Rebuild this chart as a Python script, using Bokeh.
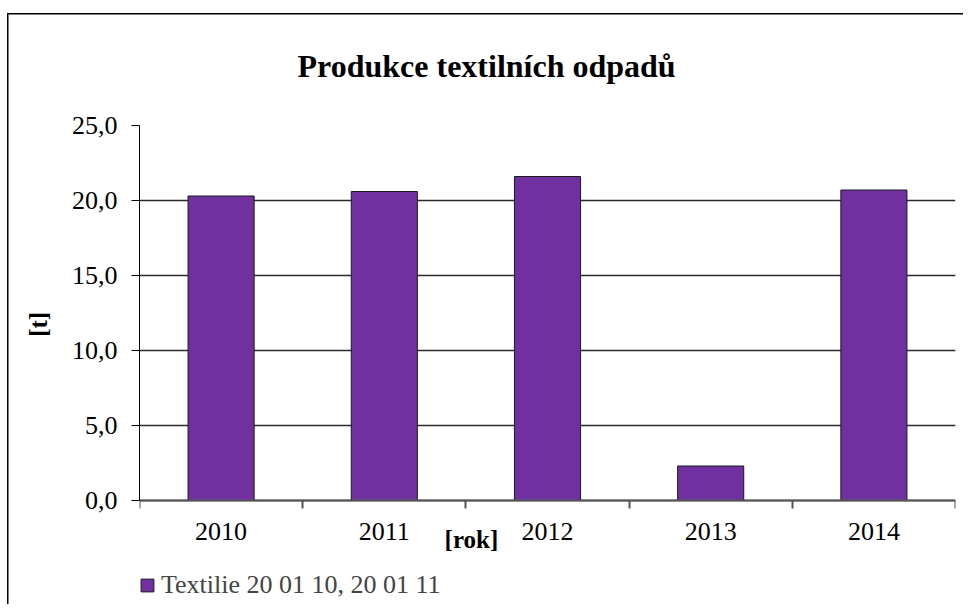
import numpy as np
from bokeh.plotting import figure
from bokeh.models import (Range1d, FixedTicker, Legend, LegendItem, LinearAxis,
                          ColumnDataSource)
from bokeh.embed import file_html
from bokeh.resources import INLINE

# ---- data ----
years = ["2010", "2011", "2012", "2013", "2014"]
values = [20.3, 20.6, 21.6, 2.3, 20.7]
y_ticks = [0, 5, 10, 15, 20, 25]
y_tick_labels = ["0,0", "5,0", "10,0", "15,0", "20,0", "25,0"]
title_text = "Produkce textilních odpadů"
series_name = "Textilie 20 01 10, 20 01 11"
x_title = "[rok]"
y_title = "[t]"

FONT = "Liberation Serif"
n = len(years)
pos = [i + 0.5 for i in range(n)]
src = ColumnDataSource(dict(x=pos, top=values, year=years))

# frame: x 139..955 px, y 125..604 px (25 at 125, 0 at 500)
PX_Y = 15.0
y_lo = -104 / PX_Y

p = figure(frame_width=816, frame_height=479,
           x_range=Range1d(0, n), y_range=Range1d(y_lo, 25),
           output_backend="svg", toolbar_location=None, tools="")
p.min_border_left = 139
p.min_border_right = 8
p.min_border_top = 125
p.min_border_bottom = 0
p.outline_line_color = None
p.background_fill_color = "white"
p.border_fill_color = None
p.styles = {
    "background-image": "linear-gradient(#000,#000), linear-gradient(#000,#000)",
    "background-size": "1.5px 100%, 100% 1.5px",
    "background-position": "7px 13px, 7px 13px",
    "background-repeat": "no-repeat",
    "background-color": "white",
}

r = p.vbar(x="x", top="top", width=0.405, source=src,
           fill_color="#7030A0", line_color="#1a1a1a", line_width=1)

# grid
p.xgrid.visible = False
p.ygrid.ticker = FixedTicker(ticks=y_ticks)
p.ygrid.grid_line_color = "#2b2b2b"
p.ygrid.grid_line_width = 1.3

# x axis (at y = 0)
xa = p.xaxis[0]
xa.fixed_location = 0
xa.ticker = FixedTicker(ticks=pos, minor_ticks=list(range(n + 1)))
xa.major_label_overrides = {x: y for x, y in zip(pos, years)}
xa.major_tick_out = 0
xa.major_tick_in = 0
xa.major_tick_line_color = None
xa.minor_tick_out = 8
xa.minor_tick_in = 0
xa.minor_tick_line_color = "#555555"
xa.minor_tick_line_width = 2
xa.axis_line_color = "#555555"
xa.axis_line_width = 2
xa.bounds = (0, n)
xa.major_label_standoff = 14
xa.major_label_text_font = FONT
xa.major_label_text_font_size = "26px"
xa.major_label_text_color = "black"

# second bottom axis carrying only the "[rok]" caption
x_title_pos = 2.034
xa2 = LinearAxis(fixed_location=0, ticker=FixedTicker(ticks=[x_title_pos]),
                 major_label_overrides={x_title_pos: x_title},
                 axis_line_color=None, major_tick_line_color=None,
                 minor_tick_line_color=None, major_tick_out=0, major_tick_in=0,
                 minor_tick_out=0, minor_tick_in=0, major_label_standoff=25,
                 major_label_text_font=FONT, major_label_text_font_size="25px",
                 major_label_text_font_style="bold", major_label_text_color="black")
p.add_layout(xa2, "below")

# y axis
ya = p.yaxis[0]
ya.bounds = (0, 25)
ya.ticker = FixedTicker(ticks=y_ticks)
ya.major_label_overrides = {t: l for t, l in zip(y_ticks, y_tick_labels)}
ya.major_tick_out = 8
ya.major_tick_in = 0
ya.minor_tick_line_color = None
ya.axis_line_color = "black"
ya.axis_line_width = 1
ya.major_tick_line_color = "black"
ya.major_label_standoff = 14
ya.major_label_text_font = FONT
ya.major_label_text_font_size = "26px"
ya.major_label_text_color = "black"
ya.axis_label = "\u00a0" * 13 + y_title
ya.axis_label_text_font = FONT
ya.axis_label_text_font_size = "25px"
ya.axis_label_text_font_style = "bold"
ya.axis_label_text_color = "black"
ya.axis_label_standoff = 17

# chart title
p.title.text = title_text
p.title.align = "left"
p.title.offset = 158
p.title.text_font = FONT
p.title.text_font_size = "32px"
p.title.text_font_style = "bold"
p.title.text_color = "black"
p.title.vertical_align = "bottom"
p.title.standoff = 84

# legend (inside the extended frame, below the x axis)
leg = Legend(items=[LegendItem(label=series_name, renderers=[r])],
             location=(0, 4), glyph_width=16, glyph_height=16, label_standoff=6,
             padding=0, margin=0, border_line_color=None, background_fill_alpha=0,
             label_text_font=FONT, label_text_font_size="26px", spacing=0)
p.add_layout(leg)

open("out.html", "w").write(file_html(p, INLINE))
